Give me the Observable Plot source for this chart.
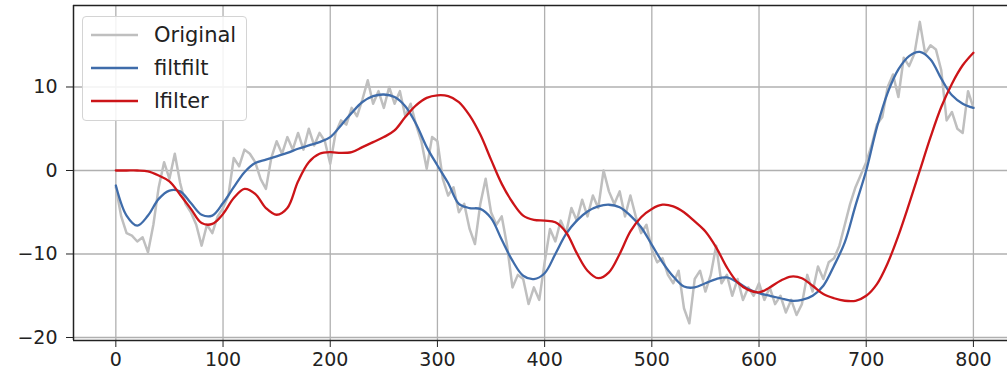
<!DOCTYPE html>
<html>
<head>
<meta charset="utf-8">
<script src="https://cdn.jsdelivr.net/npm/d3@7"></script>
<script src="https://cdn.jsdelivr.net/npm/@observablehq/plot@0.6"></script>
<style>
  html, body { margin: 0; padding: 0; background: #fff; }
  #wrap { position: relative; width: 1007px; height: 375px; font-family: "DejaVu Sans", sans-serif; }
  #legend { position: absolute; left: 82px; top: 16px; width: 165px; height: 105px;
    background: rgba(255,255,255,0.85); border: 1px solid #d4d4d4; border-radius: 4px; box-sizing: border-box; }
  .row { position: absolute; left: 0; height: 24px; display: flex; align-items: center; }
  .row svg { margin-left: 8px; }
  .row span { margin-left: 16px; font-size: 21px; color: #222; }
</style>
</head>
<body>
<div id="wrap"><div id="legend"></div></div>
<script>
// ---- data ----
const seriesNames = ["Original", "filtfilt", "lfilter"];
const seriesColors = ["#bfbfbf", "#3f6caa", "#cc1418"];

// Original (noisy) signal, sampled every 5 x-units from 0 to 800
const originalX = d3.range(0, 801, 5);
const originalY = [
  -2.0, -5.5, -7.5, -7.8, -8.5, -8.0, -9.8, -6.5, -2.0, 1.0,
  -1.0, 2.0, -1.5, -4.0, -5.0, -6.5, -9.0, -6.5, -7.5, -5.5,
  -4.5, -3.0, 1.5, 0.5, 2.5, 2.0, 1.0, -1.0, -2.2, 1.5,
  3.5, 2.0, 4.0, 2.5, 4.5, 2.5, 5.0, 3.0, 4.5, 3.5,
  0.8, 4.5, 6.0, 5.5, 7.5, 6.5, 8.5, 10.8, 8.0, 9.5,
  7.5, 10.0, 8.0, 9.5, 6.5, 8.0, 5.5, 3.5, 0.2, 4.0,
  3.5, -1.0, -3.0, -2.0, -5.0, -4.0, -7.0, -8.8, -4.0, -1.0,
  -5.0, -6.5, -5.5, -9.0, -14.0, -12.5, -13.0, -16.0, -14.0, -15.5,
  -11.0, -7.0, -8.5, -6.0, -7.5, -4.5, -6.0, -3.5, -5.5, -3.0,
  -4.5, 0.0, -2.5, -4.0, -2.5, -5.5, -3.0, -5.5, -7.5, -6.5,
  -9.5, -11.0, -10.5, -12.5, -13.5, -12.0, -16.5, -18.3, -13.0, -12.0,
  -14.5, -12.5, -9.0, -13.5, -12.5, -15.0, -13.0, -15.5, -14.0, -15.0,
  -13.5, -15.5, -14.0, -16.0, -15.0, -17.0, -15.5, -17.3, -16.0, -12.5,
  -14.5, -11.5, -13.0, -11.0, -10.5, -9.0, -6.5, -4.0, -2.0, -0.5,
  1.0, 3.0, 5.5, 6.4, 10.0, 11.5, 8.8, 13.5, 12.5, 14.0,
  17.8, 14.0, 15.0, 14.5, 12.0, 6.0, 7.0, 5.0, 4.5, 9.5,
  7.5
];

// Smoothed series, sampled every 10 x-units from 0 to 800
const smoothX = d3.range(0, 801, 10);
const filtfiltY = [
  -1.8, -5.4, -6.6, -5.4, -3.4, -2.4, -2.5, -3.9, -5.3, -5.4,
  -3.9, -2.0, -0.2, 0.9, 1.3, 1.7, 2.1, 2.6, 3.0, 3.4,
  4.0, 5.4, 6.9, 8.2, 8.9, 9.1, 8.8, 7.7, 5.6, 2.8,
  0.6, -1.5, -4.0, -4.5, -4.6, -5.7, -8.3, -10.8, -12.6, -13.0,
  -12.3, -10.0, -7.6, -6.0, -4.9, -4.3, -4.1, -4.4, -5.4, -6.8,
  -8.9, -11.0, -12.7, -13.9, -14.0, -13.5, -13.0, -12.8, -13.4, -14.2,
  -14.7, -15.0, -15.3, -15.6, -15.5, -15.0, -13.8, -11.4, -8.6, -4.2,
  0.0, 5.2, 9.3, 12.1, 13.7, 14.2, 13.3, 11.0, 9.0, 8.0,
  7.5
];
const lfilterY = [
  0.0, 0.0, 0.0, -0.1, -0.6, -1.3, -2.9, -4.6, -6.3, -6.4,
  -5.2, -3.3, -2.2, -2.8, -4.5, -5.3, -4.5, -1.3, 1.0, 2.0,
  2.2, 2.1, 2.2, 2.8, 3.4, 4.0, 4.8, 6.4, 7.8, 8.7,
  9.0, 8.9, 8.2, 6.6, 4.3, 1.3, -1.6, -3.8, -5.4, -5.9,
  -6.0, -6.2, -7.4, -9.9, -12.0, -12.9, -12.2, -10.0, -7.3, -5.6,
  -4.6, -4.1, -4.3, -5.0, -6.1, -7.3, -9.2, -11.6, -13.4, -14.3,
  -14.6, -14.0, -13.2, -12.7, -12.9, -13.8, -14.8, -15.3, -15.6, -15.6,
  -15.0, -13.6, -11.1, -7.8, -4.0, 0.0, 4.0, 7.6, 10.4, 12.6,
  14.1
];

const xTicks = [0, 100, 200, 300, 400, 500, 600, 700, 800];
const yTicks = [-20, -10, 0, 10];
const xDomain = [-39.5, 831.8];
const yDomain = [-20.36, 19.76];

// ---- tables ----
const original = originalX.map((x, i) => ({x, y: originalY[i]}));
const filtfilt = smoothX.map((x, i) => ({x, y: filtfiltY[i]}));
const lfilter = smoothX.map((x, i) => ({x, y: lfilterY[i]}));

const fmt = d => d < 0 ? "\u2212" + Math.abs(d) : String(d);

const chart = Plot.plot({
  width: 1007,
  height: 375,
  marginLeft: 73,
  marginRight: 0,
  marginTop: 5,
  marginBottom: 35,
  style: {fontFamily: "DejaVu Sans, sans-serif", fontSize: "19px", color: "#222", background: "#fff"},
  x: {domain: xDomain},
  y: {domain: yDomain},
  marks: [
    Plot.gridX(xTicks, {stroke: "#b0b0b0", strokeOpacity: 1, strokeWidth: 1.3}),
    Plot.gridY(yTicks, {stroke: "#b0b0b0", strokeOpacity: 1, strokeWidth: 1.3}),
    Plot.line(original, {x: "x", y: "y", stroke: seriesColors[0], strokeWidth: 2.5}),
    Plot.line(filtfilt, {x: "x", y: "y", stroke: seriesColors[1], strokeWidth: 2.3, curve: "catmull-rom"}),
    Plot.line(lfilter, {x: "x", y: "y", stroke: seriesColors[2], strokeWidth: 2.3, curve: "catmull-rom"}),
    Plot.ruleX([xDomain[0]], {stroke: "#222", strokeWidth: 1.5}),
    Plot.ruleY([yDomain[0], yDomain[1]], {stroke: "#222", strokeWidth: 1.5}),
    Plot.axisX(xTicks, {tickSize: 7, tickPadding: 5, tickFormat: fmt, stroke: "#222", fill: "#222", label: null, fontSize: 19}),
    Plot.axisY(yTicks, {tickSize: 7, tickPadding: 9, tickFormat: fmt, stroke: "#222", fill: "#222", label: null, fontSize: 19})
  ]
});
document.getElementById("wrap").prepend(chart);

// legend
const legend = document.getElementById("legend");
seriesNames.forEach((name, i) => {
  const row = document.createElement("div");
  row.className = "row";
  row.style.top = (6 + i * 33) + "px";
  row.innerHTML = `<svg width="47" height="6"><line x1="0" x2="47" y1="3" y2="3" stroke="${seriesColors[i]}" stroke-width="2.5"/></svg><span>${name}</span>`;
  legend.appendChild(row);
});
</script>
</body>
</html>
